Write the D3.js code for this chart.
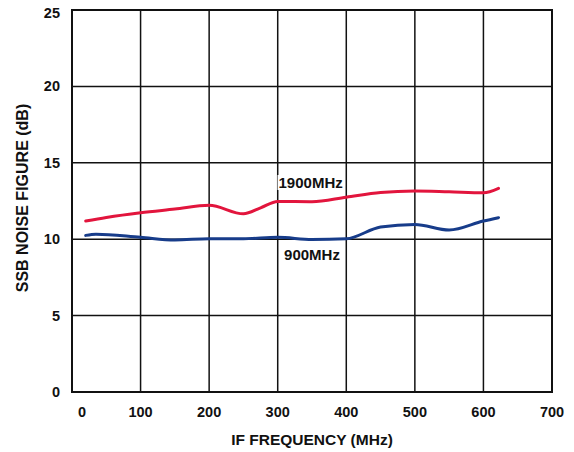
<!DOCTYPE html>
<html><head><meta charset="utf-8">
<script src="https://cdn.jsdelivr.net/npm/d3@7"></script>
<style>body{margin:0;background:#fff}text{font-family:"Liberation Sans",Arial,sans-serif;font-weight:bold;fill:#111}</style>
</head><body><svg id="c" width="574" height="452"></svg>
<script>
const xTicks=[0,100,200,300,400,500,600,700];
const yTicks=[0,5,10,15,20,25];
const freq1900=[20,50,100,150,200,250,275,300,350,400,450,500,550,600,622];
const nf1900=[11.19,11.42,11.73,11.97,12.22,11.66,12.05,12.47,12.45,12.75,13.05,13.15,13.1,13.04,13.33];
const freq900=[20,35,100,150,200,250,300,350,400,450,500,550,600,622];
const nf900=[10.25,10.33,10.12,9.95,10.03,10.03,10.12,9.98,10.03,10.8,10.97,10.6,11.19,11.41];
const labels=[{t:"1900MHz",f:348,v:13.35},{t:"900MHz",f:350,v:8.64}];

const L=72,R=552,T=10,B=392;
const svg=d3.select("#c");
const x=d3.scaleLinear().domain([0,700]).range([L,R]);
const y=d3.scaleLinear().domain([0,25]).range([B,T]);

const g=svg.append("g");
g.selectAll(".vx").data(xTicks).enter().append("line")
 .attr("x1",d=>x(d)).attr("x2",d=>x(d)).attr("y1",T).attr("y2",B)
 .attr("stroke","#111").attr("stroke-width",1.5);
g.selectAll(".hy").data(yTicks).enter().append("line")
 .attr("y1",d=>y(d)).attr("y2",d=>y(d)).attr("x1",L).attr("x2",R)
 .attr("stroke","#111").attr("stroke-width",1.5);
g.append("rect").attr("x",L).attr("y",T).attr("width",R-L).attr("height",B-T)
 .attr("fill","none").attr("stroke","#111").attr("stroke-width",2);

svg.selectAll(".xt").data(xTicks).enter().append("text")
 .attr("x",d=>x(d)+(d===0?10:0)).attr("y",417).attr("text-anchor","middle").attr("font-size",14.5).text(d=>d);
svg.selectAll(".yt").data(yTicks).enter().append("text")
 .attr("x",60).attr("y",d=>y(d)+5+(d===25?3:0)).attr("text-anchor","end").attr("font-size",14.5).text(d=>d);

svg.append("text").attr("x",312).attr("y",445).attr("text-anchor","middle").attr("font-size",15.5).text("IF FREQUENCY (MHz)");
svg.append("text").attr("transform","translate(28,198) rotate(-90)").attr("text-anchor","middle").attr("font-size",16).text("SSB NOISE FIGURE (dB)");

const line=d3.line().curve(d3.curveMonotoneX).x(d=>x(d[0])).y(d=>y(d[1]));
svg.append("path").datum(freq1900.map((f,i)=>[f,nf1900[i]]))
 .attr("d",line).attr("fill","none").attr("stroke","#e2153d").attr("stroke-width",3).attr("stroke-linecap","round");
svg.append("path").datum(freq900.map((f,i)=>[f,nf900[i]]))
 .attr("d",line).attr("fill","none").attr("stroke","#173c8a").attr("stroke-width",3).attr("stroke-linecap","round");

labels.forEach(l=>{
  const t=svg.append("text").attr("x",x(l.f)).attr("y",y(l.v)).attr("text-anchor","middle").attr("font-size",15).text(l.t);
  const bb=t.node().getBBox();
  svg.insert("rect",()=>t.node()).attr("x",bb.x-1).attr("y",bb.y+1).attr("width",bb.width+2).attr("height",bb.height-2).attr("fill","#fff");
});
</script></body></html>
